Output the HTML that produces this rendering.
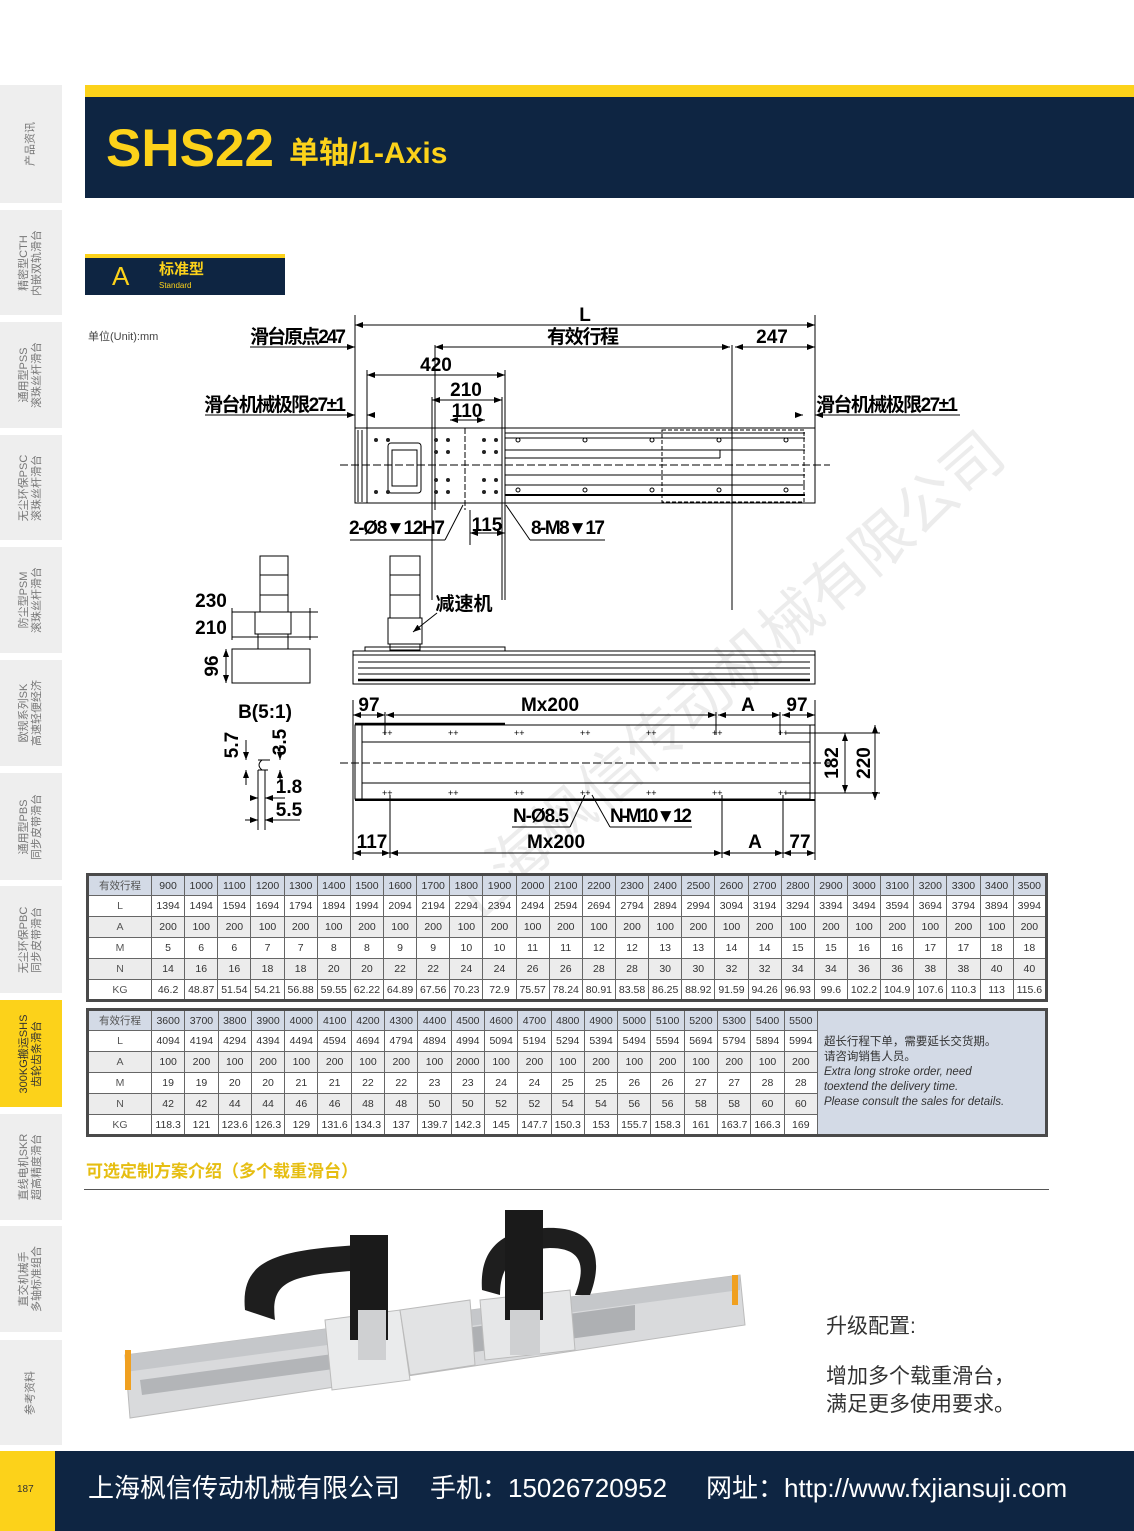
<!DOCTYPE html>
<html><head><meta charset="utf-8">
<style>
*{margin:0;padding:0;box-sizing:border-box}
body{width:1134px;height:1531px;position:relative;background:#fff;overflow:hidden;font-family:"Liberation Sans","Noto Sans CJK SC",sans-serif}
.a{position:absolute}
.tab{position:absolute;left:0;width:62px;background:#eeeeee}
.tab span{position:absolute;left:50%;top:50%;transform:translate(-50%,-50%) rotate(-90deg);white-space:nowrap;font-size:11px;line-height:13px;color:#777;text-align:center}
table{border-collapse:collapse;position:absolute;font-size:10.5px;color:#333;table-layout:fixed}
td{border:1px solid #666;text-align:center;height:21px;padding:0;white-space:nowrap;overflow:hidden}
tr.g td{background:#ececec}
tr.h td{background:#d3dae6}
td.f{width:64px;color:#555}
.note{background:#d3dae6;text-align:left;vertical-align:middle;padding:0 6px;font-size:11.5px;line-height:15px;white-space:normal;color:#333}
.ft{position:absolute;top:1471px;font-size:26px;color:#fff;line-height:34px;white-space:nowrap}
</style></head><body>

<!-- sidebar -->
<div class="tab" style="top:85px;height:118px"><span>产品资讯</span></div>
<div class="tab" style="top:210px;height:105px"><span>精密型CTH<br>内嵌双轨滑台</span></div>
<div class="tab" style="top:322px;height:106px"><span>通用型PSS<br>滚珠丝杆滑台</span></div>
<div class="tab" style="top:435px;height:105px"><span>无尘环保PSC<br>滚珠丝杆滑台</span></div>
<div class="tab" style="top:547px;height:106px"><span>防尘型PSM<br>滚珠丝杆滑台</span></div>
<div class="tab" style="top:660px;height:106px"><span>欧规系列SK<br>高速轻便经济</span></div>
<div class="tab" style="top:773px;height:107px"><span>通用型PBS<br>同步皮带滑台</span></div>
<div class="tab" style="top:886px;height:107px"><span>无尘环保PBC<br>同步皮带滑台</span></div>
<div class="tab" style="top:1000px;height:107px;background:#fcd21a"><span style="color:#333">300KG搬运SHS<br>齿轮齿条滑台</span></div>
<div class="tab" style="top:1114px;height:106px"><span>直线电机SKR<br>超高精度滑台</span></div>
<div class="tab" style="top:1226px;height:106px"><span>直交机械手<br>多轴标准组合</span></div>
<div class="tab" style="top:1340px;height:105px"><span>参考资料</span></div>

<!-- header -->
<div class="a" style="left:85px;top:85px;width:1049px;height:12px;background:#fcd21a"></div>
<div class="a" style="left:85px;top:97px;width:1049px;height:101px;background:#0e2542"></div>
<div class="a" style="left:106px;top:118px;font-size:53px;font-weight:bold;color:#fcd21a;line-height:62px">SHS22</div>
<div class="a" style="left:289px;top:135px;font-size:30px;font-weight:bold;color:#fcd21a;line-height:38px">单轴/1-Axis</div>

<!-- section A -->
<div class="a" style="left:85px;top:254px;width:200px;height:4px;background:#fcd21a"></div>
<div class="a" style="left:85px;top:258px;width:200px;height:37px;background:#0e2542"></div>
<div class="a" style="left:112px;top:261px;font-size:26px;color:#fcd21a;line-height:30px">A</div>
<div class="a" style="left:159px;top:261px;font-size:15px;font-weight:bold;color:#fcd21a;line-height:18px">标准型</div>
<div class="a" style="left:159px;top:281px;font-size:8px;color:#fcd21a;line-height:9px">Standard</div>
<div class="a" style="left:88px;top:328px;font-size:11px;color:#444">单位(Unit):mm</div>

<!-- watermark -->
<div class="a" style="left:420px;top:880px;font-size:60px;color:#000;opacity:0.07;transform:rotate(-41deg);white-space:nowrap;transform-origin:left top">上海枫信传动机械有限公司</div>

<!-- drawing -->
<svg class="a" style="left:0;top:0" width="1134" height="870" viewBox="0 0 1134 870">
<defs>
<marker id="ar" markerWidth="8" markerHeight="6" refX="8" refY="3" orient="auto-start-reverse" markerUnits="userSpaceOnUse"><path d="M0,0L8,3L0,6z" fill="#000"/></marker>
</defs>
<g stroke="#000" stroke-width="1" fill="none">
<line x1="355" y1="315" x2="355" y2="490"/><line x1="815" y1="315" x2="815" y2="490"/>
<line x1="355" y1="325" x2="815" y2="325" marker-start="url(#ar)" marker-end="url(#ar)"/>
<line x1="250" y1="347" x2="355" y2="347" marker-end="url(#ar)"/>
<line x1="435" y1="347" x2="730" y2="347" marker-start="url(#ar)" marker-end="url(#ar)"/>
<line x1="735" y1="347" x2="815" y2="347" marker-start="url(#ar)" marker-end="url(#ar)"/>
<line x1="435" y1="345" x2="435" y2="510"/><line x1="732" y1="345" x2="732" y2="610"/>
<line x1="367" y1="375" x2="505" y2="375" marker-start="url(#ar)" marker-end="url(#ar)"/>
<line x1="367" y1="370" x2="367" y2="490"/><line x1="505" y1="370" x2="505" y2="600"/>
<line x1="432" y1="400" x2="502" y2="400" marker-start="url(#ar)" marker-end="url(#ar)"/>
<line x1="432" y1="397" x2="432" y2="600"/><line x1="502" y1="397" x2="502" y2="600"/>
<line x1="450" y1="420" x2="485" y2="420" marker-start="url(#ar)" marker-end="url(#ar)"/>
<line x1="205" y1="415" x2="355" y2="415" marker-end="url(#ar)"/>
<line x1="367" y1="415" x2="375" y2="415" marker-start="url(#ar)"/>
<line x1="795" y1="415" x2="803" y2="415" marker-end="url(#ar)"/>
<line x1="815" y1="415" x2="960" y2="415" marker-start="url(#ar)"/>
<rect x="355" y="428" width="460" height="75"/>
<rect x="367" y="428" width="138" height="75"/>
<rect x="662" y="430" width="142" height="72" stroke-dasharray="4,2"/>
<line x1="505" y1="433" x2="805" y2="433"/><line x1="505" y1="438" x2="805" y2="438"/>
<line x1="505" y1="450" x2="805" y2="450"/><line x1="505" y1="458" x2="720" y2="458"/>
<line x1="720" y1="450" x2="720" y2="458"/>
<line x1="340" y1="465" x2="830" y2="465" stroke-dasharray="8,3"/>
<line x1="505" y1="475" x2="805" y2="475"/><line x1="505" y1="485" x2="805" y2="485"/>
<line x1="505" y1="495" x2="805" y2="495" stroke-width="2"/>
<line x1="358" y1="430" x2="358" y2="502"/><line x1="362" y1="430" x2="362" y2="502"/>
<rect x="388" y="443" width="33" height="50" rx="3"/><rect x="392" y="450" width="25" height="36"/>
<line x1="465" y1="428" x2="465" y2="510" stroke-dasharray="6,2"/>
<line x1="470" y1="510" x2="470" y2="545"/>
<line x1="470" y1="533" x2="505" y2="533" marker-start="url(#ar)" marker-end="url(#ar)"/>
<line x1="505" y1="505" x2="505" y2="545"/>
<line x1="350" y1="540" x2="445" y2="540"/><line x1="445" y1="540" x2="463" y2="505"/>
<line x1="530" y1="540" x2="605" y2="540"/><line x1="530" y1="540" x2="506" y2="505"/>
</g>
<g fill="#222">
<circle cx="376" cy="440" r="2"/><circle cx="388" cy="440" r="2"/><circle cx="376" cy="492" r="2"/><circle cx="388" cy="492" r="2"/>
<circle cx="436" cy="440" r="2"/><circle cx="448" cy="440" r="2"/><circle cx="484" cy="440" r="2"/><circle cx="496" cy="440" r="2"/>
<circle cx="436" cy="452" r="2"/><circle cx="448" cy="452" r="2"/><circle cx="484" cy="452" r="2"/><circle cx="496" cy="452" r="2"/>
<circle cx="436" cy="480" r="2"/><circle cx="448" cy="480" r="2"/><circle cx="484" cy="480" r="2"/><circle cx="496" cy="480" r="2"/>
<circle cx="436" cy="492" r="2"/><circle cx="448" cy="492" r="2"/><circle cx="484" cy="492" r="2"/><circle cx="496" cy="492" r="2"/>
</g>
<g fill="none" stroke="#000"><circle cx="518" cy="440" r="2"/><circle cx="585" cy="440" r="2"/><circle cx="652" cy="440" r="2"/><circle cx="719" cy="440" r="2"/><circle cx="786" cy="440" r="2"/>
<circle cx="518" cy="490" r="2"/><circle cx="585" cy="490" r="2"/><circle cx="652" cy="490" r="2"/><circle cx="719" cy="490" r="2"/><circle cx="786" cy="490" r="2"/></g>
<g font-family="'Liberation Sans Narrow','Liberation Sans','Noto Sans CJK SC',sans-serif" font-size="19" font-weight="bold" fill="#000" text-anchor="middle" lengthAdjust="spacingAndGlyphs">
<text x="585" y="321">L</text>
<text x="298" y="343" textLength="96">滑台原点247</text>
<text x="583" y="343" textLength="72">有效行程</text>
<text x="772" y="343">247</text>
<text x="436" y="371">420</text>
<text x="466" y="396">210</text>
<text x="467" y="417">110</text>
<text x="275" y="411" textLength="142">滑台机械极限27±1</text>
<text x="887" y="411" textLength="142">滑台机械极限27±1</text>
<text x="397" y="534" textLength="96">2-Ø8▼12H7</text>
<text x="487" y="531">115</text>
<text x="568" y="534" textLength="74">8-M8▼17</text>
</g>
<g stroke="#000" fill="none">
<rect x="260" y="556" width="28" height="56"/><line x1="260" y1="575" x2="288" y2="575"/><line x1="260" y1="595" x2="288" y2="595"/>
<rect x="255" y="612" width="36" height="22"/><rect x="258" y="634" width="30" height="15"/>
<rect x="232" y="649" width="78" height="34"/>
<line x1="232" y1="612" x2="318" y2="612"/><line x1="232" y1="637" x2="318" y2="637"/>
<line x1="232" y1="608" x2="232" y2="640"/><line x1="310" y1="608" x2="310" y2="640"/>
<line x1="226" y1="649" x2="226" y2="683" marker-start="url(#ar)" marker-end="url(#ar)"/>
<rect x="390" y="556" width="30" height="62"/><line x1="390" y1="575" x2="420" y2="575"/><line x1="390" y1="595" x2="420" y2="595"/>
<rect x="388" y="618" width="34" height="26"/><rect x="390" y="644" width="30" height="6"/>
<rect x="365" y="647" width="140" height="4"/>
<rect x="353" y="651" width="462" height="33"/>
<line x1="353" y1="655" x2="815" y2="655"/><line x1="358" y1="662" x2="810" y2="662"/><line x1="358" y1="668" x2="810" y2="668"/><line x1="358" y1="674" x2="810" y2="674"/>
<line x1="358" y1="680" x2="810" y2="680" stroke-width="2.5"/>
<line x1="437" y1="613" x2="413" y2="632" marker-end="url(#ar)"/>
<line x1="258" y1="760" x2="270" y2="760"/><line x1="258" y1="770" x2="268" y2="770"/>
<path d="M262,760 q-6,5 0,10"/><line x1="258" y1="770" x2="258" y2="830"/><line x1="265" y1="770" x2="265" y2="830"/>
<line x1="246" y1="740" x2="246" y2="760" marker-end="url(#ar)"/><line x1="246" y1="770" x2="246" y2="785" marker-start="url(#ar)"/>
<line x1="280" y1="745" x2="280" y2="760" marker-end="url(#ar)"/><line x1="280" y1="770" x2="280" y2="780" marker-start="url(#ar)"/>
<line x1="250" y1="798" x2="258" y2="798" marker-end="url(#ar)"/><line x1="265" y1="798" x2="285" y2="798" marker-start="url(#ar)"/>
<line x1="245" y1="820" x2="258" y2="820" marker-end="url(#ar)"/><line x1="265" y1="820" x2="300" y2="820" marker-start="url(#ar)"/>
<line x1="353" y1="700" x2="353" y2="860"/><line x1="815" y1="700" x2="815" y2="860"/>
<line x1="353" y1="715" x2="385" y2="715" marker-start="url(#ar)" marker-end="url(#ar)"/>
<line x1="386" y1="715" x2="716" y2="715" marker-start="url(#ar)" marker-end="url(#ar)"/>
<line x1="718" y1="715" x2="780" y2="715" marker-start="url(#ar)" marker-end="url(#ar)"/>
<line x1="782" y1="715" x2="815" y2="715" marker-start="url(#ar)" marker-end="url(#ar)"/>
<line x1="385" y1="712" x2="385" y2="735"/><line x1="716" y1="712" x2="716" y2="735"/><line x1="780" y1="712" x2="780" y2="735"/>
<rect x="355" y="725" width="455" height="74"/><line x1="810" y1="725" x2="815" y2="725"/>
<line x1="355" y1="724" x2="505" y2="724" stroke-width="2.5"/><line x1="355" y1="800" x2="815" y2="800" stroke-width="2"/>
<line x1="362" y1="725" x2="362" y2="799"/>
<line x1="362" y1="742" x2="810" y2="742"/><line x1="362" y1="783" x2="810" y2="783"/>
<line x1="340" y1="763" x2="830" y2="763" stroke-dasharray="8,3"/>
<line x1="785" y1="733" x2="880" y2="733"/><line x1="785" y1="793" x2="880" y2="793"/>
<line x1="845" y1="733" x2="845" y2="793" marker-start="url(#ar)" marker-end="url(#ar)"/>
<line x1="875" y1="725" x2="875" y2="800" marker-start="url(#ar)" marker-end="url(#ar)"/>
<line x1="390" y1="795" x2="390" y2="858"/><line x1="722" y1="795" x2="722" y2="858"/><line x1="783" y1="795" x2="783" y2="858"/>
<line x1="353" y1="853" x2="390" y2="853" marker-start="url(#ar)" marker-end="url(#ar)"/>
<line x1="390" y1="853" x2="722" y2="853" marker-start="url(#ar)" marker-end="url(#ar)"/>
<line x1="722" y1="853" x2="783" y2="853" marker-start="url(#ar)" marker-end="url(#ar)"/>
<line x1="783" y1="853" x2="815" y2="853" marker-start="url(#ar)" marker-end="url(#ar)"/>
<line x1="512" y1="827" x2="570" y2="827"/><line x1="570" y1="827" x2="585" y2="795"/>
<line x1="610" y1="827" x2="692" y2="827"/><line x1="610" y1="827" x2="592" y2="795"/>
</g>
<g font-size="9" fill="#000" font-family="'Liberation Sans',sans-serif">
<text x="382" y="736">++</text><text x="448" y="736">++</text><text x="514" y="736">++</text><text x="580" y="736">++</text><text x="646" y="736">++</text><text x="712" y="736">++</text><text x="778" y="736">++</text>
<text x="382" y="796">++</text><text x="448" y="796">++</text><text x="514" y="796">++</text><text x="580" y="796">++</text><text x="646" y="796">++</text><text x="712" y="796">++</text><text x="778" y="796">++</text>
</g>
<g font-family="'Liberation Sans Narrow','Liberation Sans','Noto Sans CJK SC',sans-serif" font-size="19" font-weight="bold" fill="#000" text-anchor="middle" lengthAdjust="spacingAndGlyphs">
<text x="211" y="607">230</text><text x="211" y="634">210</text>
<text x="218" y="666" transform="rotate(-90 218 666)">96</text>
<text x="464" y="610">减速机</text>
<text x="265" y="718">B(5:1)</text>
<text x="238" y="745" transform="rotate(-90 238 745)">5.7</text>
<text x="286" y="742" transform="rotate(-90 286 742)">3.5</text>
<text x="289" y="793">1.8</text><text x="289" y="816">5.5</text>
<text x="369" y="711">97</text><text x="550" y="711">Mx200</text><text x="748" y="711">A</text><text x="797" y="711">97</text>
<text x="838" y="763" transform="rotate(-90 838 763)">182</text>
<text x="870" y="763" transform="rotate(-90 870 763)">220</text>
<text x="541" y="822" textLength="56">N-Ø8.5</text><text x="651" y="822" textLength="82">N-M10▼12</text>
<text x="372" y="848">117</text><text x="556" y="848">Mx200</text><text x="755" y="848">A</text><text x="800" y="848">77</text>
</g>
</svg>

<!-- tables -->
<table style="left:86px;top:873px;width:962px;border:3px solid #4a4a4a">
<colgroup><col style="width:64px"></colgroup>
<tr class="h"><td class="f">有效行程</td><td>900</td><td>1000</td><td>1100</td><td>1200</td><td>1300</td><td>1400</td><td>1500</td><td>1600</td><td>1700</td><td>1800</td><td>1900</td><td>2000</td><td>2100</td><td>2200</td><td>2300</td><td>2400</td><td>2500</td><td>2600</td><td>2700</td><td>2800</td><td>2900</td><td>3000</td><td>3100</td><td>3200</td><td>3300</td><td>3400</td><td>3500</td></tr>
<tr><td class="f">L</td><td>1394</td><td>1494</td><td>1594</td><td>1694</td><td>1794</td><td>1894</td><td>1994</td><td>2094</td><td>2194</td><td>2294</td><td>2394</td><td>2494</td><td>2594</td><td>2694</td><td>2794</td><td>2894</td><td>2994</td><td>3094</td><td>3194</td><td>3294</td><td>3394</td><td>3494</td><td>3594</td><td>3694</td><td>3794</td><td>3894</td><td>3994</td></tr>
<tr class="g"><td class="f">A</td><td>200</td><td>100</td><td>200</td><td>100</td><td>200</td><td>100</td><td>200</td><td>100</td><td>200</td><td>100</td><td>200</td><td>100</td><td>200</td><td>100</td><td>200</td><td>100</td><td>200</td><td>100</td><td>200</td><td>100</td><td>200</td><td>100</td><td>200</td><td>100</td><td>200</td><td>100</td><td>200</td></tr>
<tr><td class="f">M</td><td>5</td><td>6</td><td>6</td><td>7</td><td>7</td><td>8</td><td>8</td><td>9</td><td>9</td><td>10</td><td>10</td><td>11</td><td>11</td><td>12</td><td>12</td><td>13</td><td>13</td><td>14</td><td>14</td><td>15</td><td>15</td><td>16</td><td>16</td><td>17</td><td>17</td><td>18</td><td>18</td></tr>
<tr class="g"><td class="f">N</td><td>14</td><td>16</td><td>16</td><td>18</td><td>18</td><td>20</td><td>20</td><td>22</td><td>22</td><td>24</td><td>24</td><td>26</td><td>26</td><td>28</td><td>28</td><td>30</td><td>30</td><td>32</td><td>32</td><td>34</td><td>34</td><td>36</td><td>36</td><td>38</td><td>38</td><td>40</td><td>40</td></tr>
<tr><td class="f">KG</td><td>46.2</td><td>48.87</td><td>51.54</td><td>54.21</td><td>56.88</td><td>59.55</td><td>62.22</td><td>64.89</td><td>67.56</td><td>70.23</td><td>72.9</td><td>75.57</td><td>78.24</td><td>80.91</td><td>83.58</td><td>86.25</td><td>88.92</td><td>91.59</td><td>94.26</td><td>96.93</td><td>99.6</td><td>102.2</td><td>104.9</td><td>107.6</td><td>110.3</td><td>113</td><td>115.6</td></tr>
</table>

<table style="left:86px;top:1008px;width:962px;border:3px solid #4a4a4a">
<colgroup><col style="width:64px"><col span="20" style="width:33.3px"><col></colgroup>
<tr class="h"><td class="f">有效行程</td><td>3600</td><td>3700</td><td>3800</td><td>3900</td><td>4000</td><td>4100</td><td>4200</td><td>4300</td><td>4400</td><td>4500</td><td>4600</td><td>4700</td><td>4800</td><td>4900</td><td>5000</td><td>5100</td><td>5200</td><td>5300</td><td>5400</td><td>5500</td>
<td class="note" rowspan="6">超长行程下单，需要延长交货期。<br>请咨询销售人员。<br><i>Extra long stroke order, need<br>toextend the delivery time.<br>Please consult the sales for details.</i></td></tr>
<tr><td class="f">L</td><td>4094</td><td>4194</td><td>4294</td><td>4394</td><td>4494</td><td>4594</td><td>4694</td><td>4794</td><td>4894</td><td>4994</td><td>5094</td><td>5194</td><td>5294</td><td>5394</td><td>5494</td><td>5594</td><td>5694</td><td>5794</td><td>5894</td><td>5994</td></tr>
<tr class="g"><td class="f">A</td><td>100</td><td>200</td><td>100</td><td>200</td><td>100</td><td>200</td><td>100</td><td>200</td><td>100</td><td>2000</td><td>100</td><td>200</td><td>100</td><td>200</td><td>100</td><td>200</td><td>100</td><td>200</td><td>100</td><td>200</td></tr>
<tr><td class="f">M</td><td>19</td><td>19</td><td>20</td><td>20</td><td>21</td><td>21</td><td>22</td><td>22</td><td>23</td><td>23</td><td>24</td><td>24</td><td>25</td><td>25</td><td>26</td><td>26</td><td>27</td><td>27</td><td>28</td><td>28</td></tr>
<tr class="g"><td class="f">N</td><td>42</td><td>42</td><td>44</td><td>44</td><td>46</td><td>46</td><td>48</td><td>48</td><td>50</td><td>50</td><td>52</td><td>52</td><td>54</td><td>54</td><td>56</td><td>56</td><td>58</td><td>58</td><td>60</td><td>60</td></tr>
<tr><td class="f">KG</td><td>118.3</td><td>121</td><td>123.6</td><td>126.3</td><td>129</td><td>131.6</td><td>134.3</td><td>137</td><td>139.7</td><td>142.3</td><td>145</td><td>147.7</td><td>150.3</td><td>153</td><td>155.7</td><td>158.3</td><td>161</td><td>163.7</td><td>166.3</td><td>169</td></tr>
</table>

<!-- options -->
<div class="a" style="left:86px;top:1161px;font-size:17px;color:#e6be12;font-weight:bold;line-height:22px">可选定制方案介绍（多个载重滑台）</div>
<div class="a" style="left:84px;top:1189px;width:965px;height:1px;background:#555"></div>

<svg class="a" style="left:100px;top:1200px" width="680" height="230" viewBox="0 0 680 230">
<polygon points="25,155 640,75 645,125 30,218" fill="#d9dadc" stroke="#bbb"/>
<polygon points="25,155 640,75 640,90 25,172" fill="#c5c7ca"/>
<polygon points="40,180 300,145 300,160 42,195" fill="#9a9ca0" opacity=".6"/>
<polygon points="255,143 535,105 535,130 258,168" fill="#aeb0b3"/>
<path d="M145,110 C140,60 175,50 260,45 L265,70 C190,75 170,80 175,120 Z" fill="#1e1e1e"/>
<path d="M382,90 C380,60 390,30 445,28 C505,25 500,70 490,95 L475,95 C485,70 485,48 450,48 C410,50 400,70 400,95 Z" fill="#1e1e1e"/>
<polygon points="225,120 300,110 310,180 232,190" fill="#eaebec" stroke="#bbb"/>
<polygon points="300,110 370,100 375,165 310,175" fill="#e2e3e4" stroke="#bbb"/>
<polygon points="380,100 470,90 475,150 385,160" fill="#e6e7e8" stroke="#bbb"/>
<rect x="250" y="35" width="38" height="105" fill="#1a1a1a"/>
<rect x="258" y="110" width="28" height="50" fill="#cfd0d2"/>
<rect x="405" y="10" width="38" height="110" fill="#1a1a1a"/>
<rect x="410" y="110" width="30" height="45" fill="#cfd0d2"/>
<rect x="25" y="150" width="6" height="40" fill="#f0a020"/>
<rect x="632" y="75" width="6" height="30" fill="#f0a020"/>
</svg>

<div class="a" style="left:826px;top:1313px;font-size:21px;color:#333;line-height:28px">升级配置:</div>
<div class="a" style="left:826px;top:1363px;font-size:21px;color:#333;line-height:28px">增加多个载重滑台，<br>满足更多使用要求。</div>

<!-- footer -->
<div class="a" style="left:0;top:1451px;width:55px;height:80px;background:#fcd21a"></div>
<div class="a" style="left:55px;top:1451px;width:1079px;height:80px;background:#0e2542"></div>
<div class="a" style="left:17px;top:1484px;font-size:10px;color:#333">187</div>
<div class="ft" style="left:88px">上海枫信传动机械有限公司</div>
<div class="ft" style="left:430px">手机：15026720952</div>
<div class="ft" style="left:706px">网址：http://www.fxjiansuji.com</div>
</body></html>
